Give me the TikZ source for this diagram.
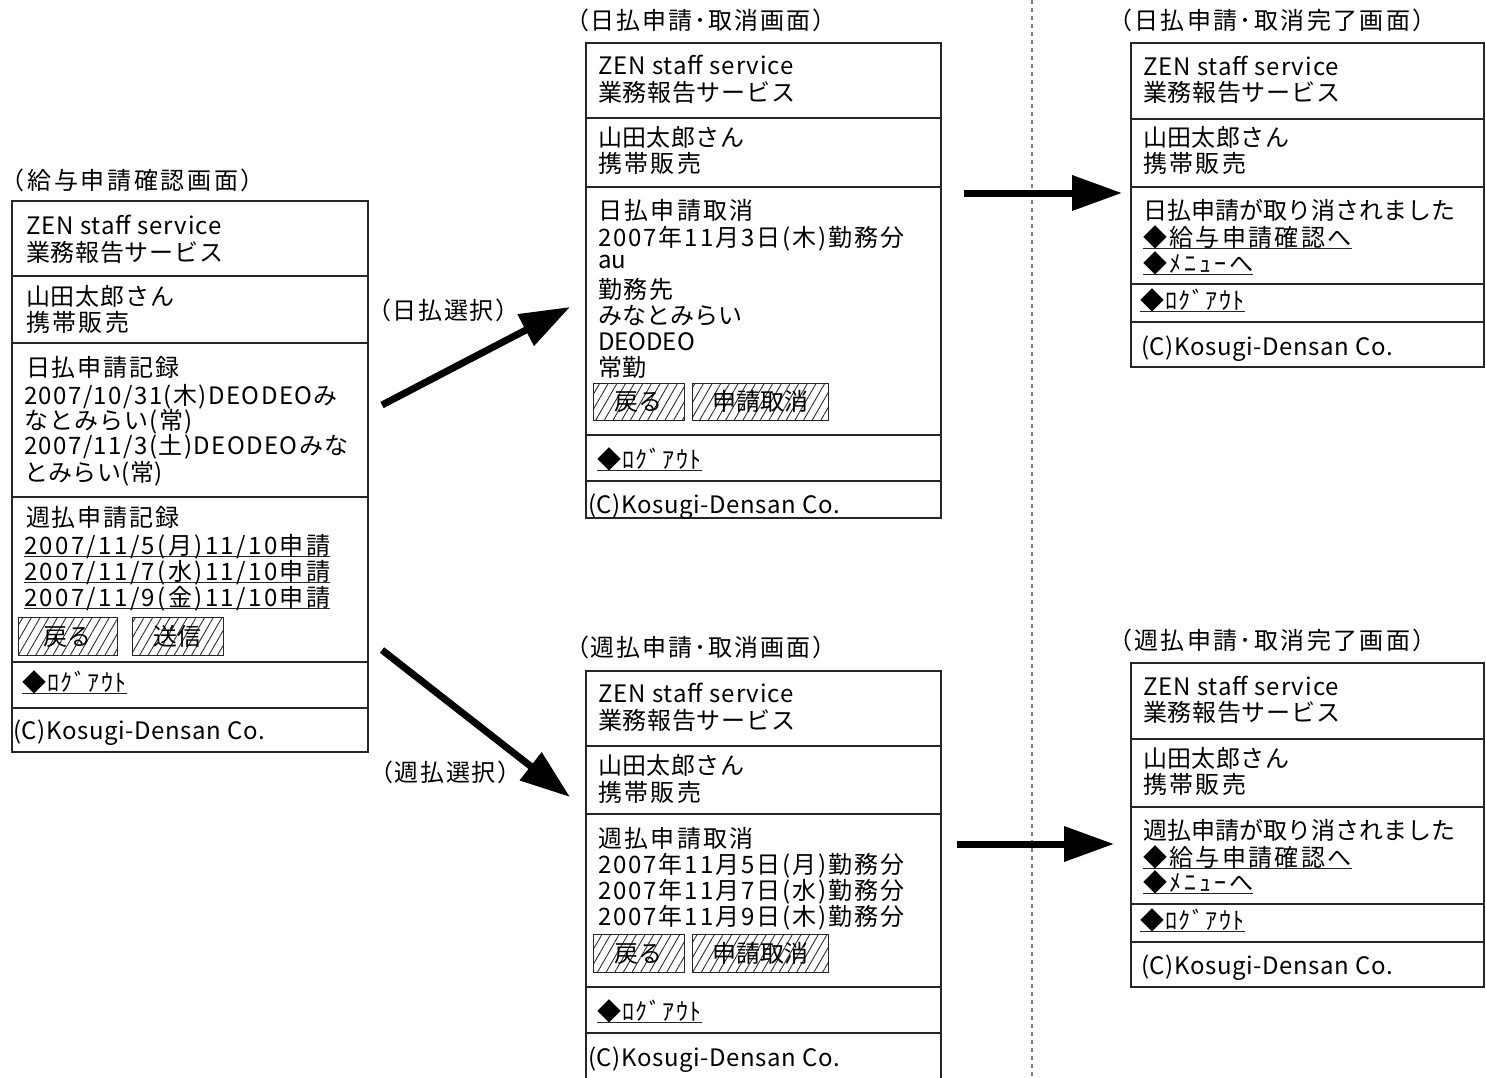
\documentclass[tikz,border=0pt]{standalone}
\usepackage{fontspec}
\setmainfont{Noto Sans CJK JP}
\usetikzlibrary{arrows.meta,patterns.meta,calc}
% \tx[letterspace]{name}{x}{y}{text}
\newcommand\tx[5][0]{\node[txt] (#2) at (#3,#4) {\addfontfeatures{LetterSpace=#1}#5};}
\newcommand\lnk[5][0]{\node[txt] (#2) at (#3,#4) {\addfontfeatures{LetterSpace=#1}#5};
  \draw[ulline] ($(#2.base west)+(0,2.5)$) -- ($(#2.base east)+(0,2.5)$);}
\newcommand\sct[5]{\node[sect,minimum width=#4,minimum height=#5] (#1) at (#2,#3) {};}
\newcommand\btn[6]{\node[button,minimum width=#4,minimum height=#5] (#1) at (#2,#3) {#6};}
\begin{document}
\begin{tikzpicture}[x=1pt,y=-1pt,
  every node/.style={font=\fontsize{24}{27}\selectfont},
  sect/.style={draw=black!85,line width=1.2pt,rectangle,anchor=north west,inner sep=0,outer sep=0},
  txt/.style={anchor=west,inner sep=0,outer sep=0,text height=21pt,text depth=3pt},
  button/.style={draw=black!85,line width=1pt,rectangle,anchor=north west,inner sep=0,outer sep=0,
     text height=21pt,text depth=3pt,
     pattern={Lines[angle=60,distance=7.5pt,line width=0.85pt]},pattern color=black!85},
  flow/.style={line width=7pt,-{Triangle[length=50pt,width=34pt]}},
  ulline/.style={line width=1.2pt,black!85},
  sep/.style={gray,line width=2pt,dash pattern=on 4pt off 4pt}]
\fill[white] (0,0) rectangle (1486,1077);
\useasboundingbox (0,0) rectangle (1486,1077);

% separator
\coordinate (d1) at (1032,0);
\coordinate (d2) at (1032,1077);
\draw[sep] (d1) -- (d2);

% ---------- left panel ----------
\tx[11]{t0}{1}{180}{（給与申請確認画面）}
\sct{L1}{12}{201}{356}{75}
\sct{L2}{12}{276}{356}{67}
\sct{L3}{12}{343}{356}{154}
\sct{L4}{12}{497}{356}{165}
\sct{L5}{12}{662}{356}{46}
\sct{L6}{12}{708}{356}{44}
\tx[4]{l1a}{26}{225}{ZEN staff service}
\tx[3]{l1b}{26}{252}{業務報告サービス}
\tx[4]{l2a}{26}{296}{山田太郎さん}
\tx[10]{l2b}{26}{322}{携帯販売}
\tx[8]{l3a}{26}{367}{日払申請記録}
\tx[6]{l3b}{24}{395}{2007/10/31(木)DEODEOみ}
\tx[5]{l3c}{24}{420}{なとみらい(常)}
\tx[6]{l3d}{24}{445}{2007/11/3(土)DEODEOみな}
\tx[2]{l3e}{24}{472}{とみらい(常)}
\tx[8]{l4a}{26}{517}{週払申請記録}
\lnk[10]{l4b}{24}{545}{2007/11/5(月)11/10申請}
\lnk[10]{l4c}{24}{571}{2007/11/7(水)11/10申請}
\lnk[10]{l4d}{24}{597}{2007/11/9(金)11/10申請}
\btn{lb1}{18}{617}{99}{38}{戻る}
\btn{lb2}{132}{617}{91}{38}{送信}
\lnk[6]{l5}{22}{682}{◆ﾛｸﾞｱｳﾄ}
\tx[2.5]{l6}{13}{730}{(C)Kosugi-Densan Co.}

% ---------- top middle panel ----------
\tx[8]{t1}{565}{20}{（日払申請･取消画面）}
\sct{A1}{586}{43}{355}{75}
\sct{A2}{586}{118}{355}{69}
\sct{A3}{586}{187}{355}{248}
\sct{A4}{586}{435}{355}{46}
\sct{A5}{586}{481}{355}{37}
\tx[4]{a1a}{598}{65}{ZEN staff service}
\tx[3]{a1b}{598}{92}{業務報告サービス}
\tx[2]{a2a}{598}{137}{山田太郎さん}
\tx[10]{a2b}{598}{163}{携帯販売}
\tx[10]{a3a}{598}{210}{日払申請取消}
\tx[8]{a3b}{598}{237}{2007年11月3日(木)勤務分}
\tx{a3c}{598}{259}{au}
\tx[8]{a3d}{598}{289}{勤務先}
\tx{a3e}{598}{315}{みなとみらい}
\tx{a3f}{598}{341}{DEODEO}
\tx{a3g}{598}{367}{常勤}
\btn{ab1}{593}{383}{91}{37}{戻る}
\btn{ab2}{692}{383}{136}{37}{申請取消}
\lnk[6]{a4}{597}{459}{◆ﾛｸﾞｱｳﾄ}
\tx[2.5]{a5}{588}{504}{(C)Kosugi-Densan Co.}

% ---------- top right panel ----------
\tx[10]{t2}{1108}{20}{（日払申請･取消完了画面）}
\sct{B1}{1131}{43}{353}{76}
\sct{B2}{1131}{119}{353}{68}
\sct{B3}{1131}{187}{353}{97}
\sct{B4}{1131}{284}{353}{38}
\sct{B5}{1131}{322}{353}{45}
\tx[4]{b1a}{1143}{66}{ZEN staff service}
\tx[3]{b1b}{1143}{92}{業務報告サービス}
\tx[2]{b2a}{1143}{137}{山田太郎さん}
\tx[10]{b2b}{1143}{163}{携帯販売}
\tx{b3a}{1143}{210}{日払申請が取り消されました}
\lnk[10]{b3b}{1143}{237}{◆給与申請確認へ}
\lnk[12]{b3c}{1143}{263}{◆ﾒﾆｭｰへ}
\lnk[6]{b4}{1140}{300}{◆ﾛｸﾞｱｳﾄ}
\tx[2.5]{b5}{1141}{346}{(C)Kosugi-Densan Co.}

% ---------- bottom middle panel ----------
\tx[8]{t3}{565}{647}{（週払申請･取消画面）}
\sct{C1}{586}{671}{355}{75}
\sct{C2}{586}{746}{355}{68}
\sct{C3}{586}{814}{355}{173}
\sct{C4}{586}{987}{355}{46}
\sct{C5}{586}{1033}{355}{60}
\tx[4]{c1a}{598}{693}{ZEN staff service}
\tx[3]{c1b}{598}{720}{業務報告サービス}
\tx[2]{c2a}{598}{765}{山田太郎さん}
\tx[10]{c2b}{598}{792}{携帯販売}
\tx[10]{c3a}{598}{838}{週払申請取消}
\tx[8]{c3b}{598}{864}{2007年11月5日(月)勤務分}
\tx[8]{c3c}{598}{890}{2007年11月7日(水)勤務分}
\tx[8]{c3d}{598}{916}{2007年11月9日(木)勤務分}
\btn{cb1}{593}{934}{91}{38}{戻る}
\btn{cb2}{692}{934}{136}{38}{申請取消}
\lnk[6]{c4}{597}{1011}{◆ﾛｸﾞｱｳﾄ}
\tx[2.5]{c5}{588}{1057}{(C)Kosugi-Densan Co.}

% ---------- bottom right panel ----------
\tx[10]{t4}{1108}{640}{（週払申請･取消完了画面）}
\sct{D1}{1131}{663}{353}{76}
\sct{D2}{1131}{739}{353}{68}
\sct{D3}{1131}{807}{353}{97}
\sct{D4}{1131}{904}{353}{38}
\sct{D5}{1131}{942}{353}{45}
\tx[4]{d1a}{1143}{686}{ZEN staff service}
\tx[3]{d1b}{1143}{712}{業務報告サービス}
\tx[2]{d2a}{1143}{758}{山田太郎さん}
\tx[10]{d2b}{1143}{784}{携帯販売}
\tx{d3a}{1143}{830}{週払申請が取り消されました}
\lnk[10]{d3b}{1143}{857}{◆給与申請確認へ}
\lnk[12]{d3c}{1143}{882}{◆ﾒﾆｭｰへ}
\lnk[6]{d4}{1140}{920}{◆ﾛｸﾞｱｳﾄ}
\tx[2.5]{d5}{1141}{965}{(C)Kosugi-Densan Co.}

% ---------- transitions ----------
\tx[7]{s1}{367}{310}{（日払選択）}
\tx[7]{s2}{369}{772}{（週払選択）}
\coordinate (a1s) at (382,405);
\coordinate (a1e) at (570,307);
\coordinate (a2s) at (382,650);
\coordinate (a2e) at (570,797);
\coordinate (a3s) at (964,193);
\coordinate (a3e) at (1122,193);
\coordinate (a4s) at (957,844);
\coordinate (a4e) at (1114,844);
\draw[flow] (a1s) -- (a1e);
\draw[flow] (a2s) -- (a2e);
\draw[flow] (a3s) -- (a3e);
\draw[flow] (a4s) -- (a4e);
\end{tikzpicture}
\end{document}
